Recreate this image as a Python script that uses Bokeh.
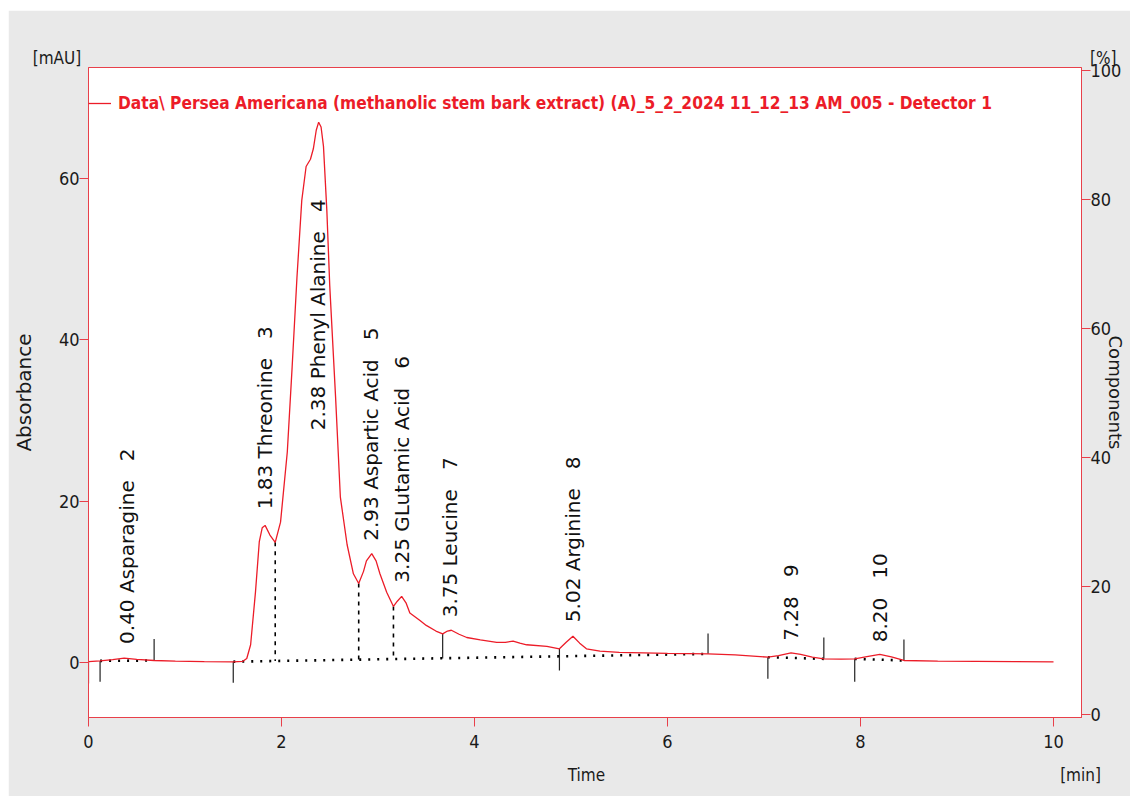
from math import pi
from bokeh.plotting import figure
from bokeh.models import Range1d, LinearAxis, FixedTicker
from bokeh.embed import file_html
from bokeh.resources import INLINE
from bokeh.core.properties import value

# ---------------- data ----------------
time_min = [0.00, 0.12, 0.25, 0.37, 0.50, 0.68, 0.90, 1.20, 1.50, 1.60, 1.64, 1.68,
            1.73, 1.77, 1.80, 1.83, 1.88, 1.935, 1.99, 2.06, 2.11, 2.16, 2.21, 2.255,
            2.30, 2.33, 2.36, 2.385, 2.41, 2.435, 2.47, 2.50, 2.56, 2.61, 2.68, 2.745,
            2.80, 2.85, 2.88, 2.935, 2.98, 3.02, 3.09, 3.16, 3.20, 3.245, 3.29, 3.33,
            3.435, 3.50, 3.60, 3.67, 3.72, 3.76, 3.84, 3.92, 4.06, 4.23, 4.32, 4.40,
            4.47, 4.54, 4.75, 4.88, 4.95, 5.02, 5.09, 5.16, 5.30, 5.50, 6.00, 6.42,
            6.70, 7.04, 7.15, 7.28, 7.38, 7.50, 7.62, 7.80, 7.94, 8.08, 8.20, 8.32,
            8.45, 8.80, 9.20, 9.60, 10.00]
absorbance_mau = [0.12, 0.20, 0.35, 0.53, 0.40, 0.25, 0.18, 0.12, 0.08, 0.15, 0.5, 2.2,
                  8.7, 15.0, 16.7, 17.0, 15.8, 14.9, 17.4, 26.1, 36.6, 47.7, 57.3, 61.5,
                  62.4, 63.7, 66.0, 67.0, 66.4, 64.0, 56.0, 46.7, 33.0, 20.5, 14.6, 11.0,
                  9.8, 11.3, 12.6, 13.5, 12.6, 11.0, 8.7, 6.95, 7.6, 8.2, 7.4, 6.15,
                  5.2, 4.6, 3.9, 3.55, 3.9, 4.0, 3.5, 3.1, 2.8, 2.5, 2.5, 2.65,
                  2.4, 2.2, 2.0, 1.7, 2.5, 3.26, 2.4, 1.7, 1.4, 1.25, 1.12, 1.07,
                  0.95, 0.66, 0.85, 1.2, 1.0, 0.66, 0.45, 0.42, 0.45, 0.75, 1.0, 0.7,
                  0.25, 0.18, 0.14, 0.10, 0.08]

peak_rt = [0.40, 1.83, 2.38, 2.93, 3.25, 3.75, 5.02, 7.28, 8.20]
peak_name = ["Asparagine", "Threonine", "Phenyl Alanine", "Aspartic Acid",
             "GLutamic Acid", "Leucine", "Arginine", "", ""]
peak_no = [2, 3, 4, 5, 6, 7, 8, 9, 10]
label_y = [2.3, 19.0, 28.8, 15.1, 9.9, 5.6, 5.0, 2.7, 2.5]

# integration baselines (dotted)
base_t0 = [0.12, 1.50, 7.04, 7.94]
base_y0 = [0.20, 0.10, 0.66, 0.45]
base_t1 = [0.68, 6.42, 7.62, 8.45]
base_y1 = [0.25, 1.07, 0.45, 0.25]

# dashed drop lines from valleys to baseline
drop_t = [1.935, 2.80, 3.16]
drop_top = [14.9, 9.8, 6.95]
drop_bottom = [0.20, 0.35, 0.45]

# short solid peak start/end markers
mark_t = [0.00, 0.12, 0.68, 1.50, 3.67, 4.88, 6.42, 7.04, 7.62, 7.94, 8.45]
mark_y0 = [0.12, 0.20, 0.25, 0.10, 3.55, 1.70, 1.07, 0.66, 0.45, 0.45, 0.25]
mark_y1 = [-2.6, -2.4, 2.9, -2.5, 0.50, -1.0, 3.6, -2.0, 3.1, -2.4, 2.85]

x_ticks = [0, 2, 4, 6, 8, 10]
y_ticks = [0, 20, 40, 60]
pct_ticks = [0, 20, 40, 60, 80, 100]

TITLE = "Data\\ Persea Americana (methanolic stem bark extract) (A)_5_2_2024 11_12_13 AM_005 - Detector 1"
NB = "\u00a0"

# ---------------- style ----------------
RED = "#ec1c28"
FRAME_RED = "#e8404a"
NARROW = "DejaVu Sans Condensed"
TXT = "#1a1a1a"
X_END = 10.29

p = figure(width=1122, height=786, output_backend="svg", toolbar_location=None,
           x_range=Range1d(0, X_END), y_range=Range1d(-6.82, 73.78),
           min_border_left=80, min_border_right=49, min_border_top=57, min_border_bottom=79)
p.margin = (10, 0, 0, 8)
p.border_fill_color = "#e9e9e9"
p.background_fill_color = "white"
p.outline_line_color = FRAME_RED
p.outline_line_width = 1
p.grid.visible = False

p.extra_y_ranges = {"pct": Range1d(-0.4, 100.5)}
raxis = LinearAxis(y_range_name="pct", ticker=FixedTicker(ticks=pct_ticks))
p.add_layout(raxis, "right")

xaxis = p.xaxis[0]
yaxis = p.yaxis[0]
xaxis.ticker = FixedTicker(ticks=x_ticks)
yaxis.ticker = FixedTicker(ticks=y_ticks)

for ax in [xaxis, yaxis, raxis]:
    ax.axis_line_color = FRAME_RED
    ax.major_tick_line_color = FRAME_RED
    ax.major_tick_out = 9
    ax.major_tick_in = 0
    ax.minor_tick_line_color = None
    ax.major_label_text_font = NARROW
    ax.major_label_text_font_size = "18px"
    ax.major_label_text_color = TXT
yaxis.major_label_standoff = 0
raxis.major_label_standoff = 0
xaxis.major_label_standoff = 8

yaxis.axis_label = "Absorbance"
yaxis.axis_label_text_font = "DejaVu Sans"
yaxis.axis_label_text_font_size = "20px"
yaxis.axis_label_text_font_style = "normal"
yaxis.axis_label_text_color = TXT
yaxis.axis_label_standoff = 20

raxis.axis_label = "Components"
raxis.axis_label_text_font = "DejaVu Sans"
raxis.axis_label_text_font_size = "18px"
raxis.axis_label_text_font_style = "normal"
raxis.axis_label_text_color = TXT
raxis.axis_label_standoff = -19

# unit labels carried by tick-less helper axes
top_axis = LinearAxis(ticker=FixedTicker(ticks=[0, X_END - 0.001]),
                      major_label_overrides={0: "[mAU]" + NB * 13,
                                             X_END - 0.001: NB * 9 + "[%]"})
bot_axis = LinearAxis(ticker=FixedTicker(ticks=[5.16, 10.28]),
                      major_label_overrides={5.16: "Time", 10.28: "[min]"})
for ax in [top_axis, bot_axis]:
    ax.axis_line_color = None
    ax.major_tick_line_color = None
    ax.minor_tick_line_color = None
    ax.major_tick_out = 0
    ax.major_tick_in = 0
    ax.major_label_text_font = NARROW
    ax.major_label_text_font_size = "17px"
    ax.major_label_text_color = TXT
top_axis.major_label_standoff = 0
bot_axis.major_label_standoff = 14
p.add_layout(top_axis, "above")
p.add_layout(bot_axis, "below")

# dotted integration baselines
p.segment(x0=base_t0, y0=base_y0, x1=base_t1, y1=base_y1,
          line_color="black", line_width=2.6, line_dash="2 7")
# dashed drop lines
p.segment(x0=drop_t, y0=drop_top, x1=drop_t, y1=drop_bottom,
          line_color="black", line_width=1.6, line_dash="4 5")
# solid markers
p.segment(x0=mark_t, y0=mark_y0, x1=mark_t, y1=mark_y1,
          line_color="#222222", line_width=1.2)

# chromatogram
p.line(time_min, absorbance_mau, line_color=RED, line_width=1.3, legend_label=TITLE)

# peak labels
texts = [f"{rt:.2f} {nm} {NB}{NB}{n}" if nm else f"{rt:.2f} {NB}{NB}{n}"
         for rt, nm, n in zip(peak_rt, peak_name, peak_no)]
p.text(x=peak_rt, y=label_y, text=texts, angle=pi / 2, text_align="left",
       text_baseline="middle", text_font=value("DejaVu Sans"), text_font_size="20px",
       text_color="#111111")

# legend styled as the red header line
lg = p.legend[0]
lg.location = (0, 604)
lg.padding = 0
lg.margin = 0
lg.spacing = 0
lg.border_line_color = None
lg.background_fill_alpha = 0
lg.glyph_width = 23
lg.glyph_height = 20
lg.label_height = 20
lg.label_standoff = 7
lg.label_text_font = NARROW
lg.label_text_font_style = "bold"
lg.label_text_font_size = "17.2px"
lg.label_text_color = RED

open("out.html", "w").write(file_html(p, INLINE))
